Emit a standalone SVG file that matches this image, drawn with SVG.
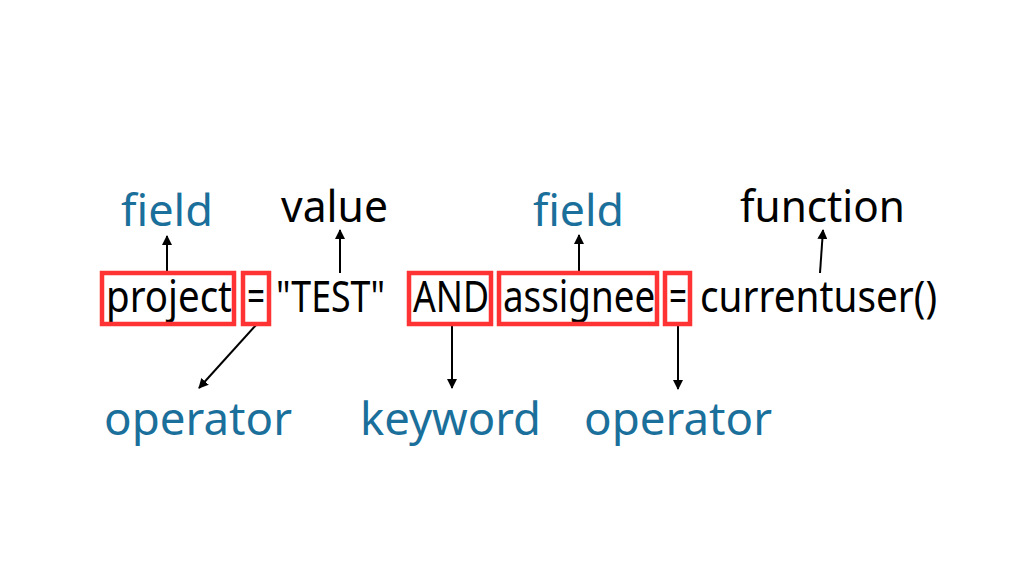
<svg xmlns="http://www.w3.org/2000/svg" width="1024" height="576" viewBox="0 0 1024 576">
<style>
.code{font-family:"Noto Sans","Liberation Sans",sans-serif;font-size:43px;fill:#000}
.lbl{font-family:"Noto Sans","Liberation Sans",sans-serif;font-size:44px}
.low{font-size:46px}
.blue{fill:#1a6f9b}
.black{fill:#000}
.box{fill:none;stroke:#ff3333;stroke-width:4.5}
.conn{stroke:#000;stroke-width:2;fill:none;marker-end:url(#ah)}
</style>
<defs>
<marker id="ah" viewBox="0 0 10 10" refX="9" refY="5" markerWidth="5" markerHeight="5" orient="auto" markerUnits="strokeWidth">
<path d="M0,0 L10,5 L0,10 z" fill="#000"/>
</marker>
</defs>
<rect width="1024" height="576" fill="#fff"/>
<g id="connectors">
<line class="conn" x1="167" y1="273" x2="167" y2="236"/>
<line class="conn" x1="340" y1="273" x2="340" y2="230"/>
<line class="conn" x1="579" y1="273" x2="579" y2="235"/>
<line class="conn" x1="820" y1="273" x2="823" y2="230"/>
<line class="conn" x1="257" y1="324" x2="199" y2="388"/>
<line class="conn" x1="452" y1="324" x2="452" y2="388"/>
<line class="conn" x1="678" y1="324" x2="678" y2="389"/>
</g>
<g id="project"><text class="code" x="106" y="312" textLength="126" lengthAdjust="spacingAndGlyphs">project</text><rect class="box" x="102" y="273" width="132" height="51"/></g>
<g id="eq1"><text class="code" x="247" y="312" textLength="18" lengthAdjust="spacingAndGlyphs">=</text><rect class="box" x="243" y="273" width="26" height="51"/></g>
<g id="test"><text class="code" x="276" y="312" textLength="109" lengthAdjust="spacingAndGlyphs">"TEST"</text></g>
<g id="and"><text class="code" x="413" y="312" textLength="76" lengthAdjust="spacingAndGlyphs">AND</text><rect class="box" x="409" y="273" width="82" height="51"/></g>
<g id="assignee"><text class="code" transform="translate(503,312) scale(0.855,1)" x="0" y="0">assignee</text><rect class="box" x="499" y="273" width="158" height="51"/></g>
<g id="eq2"><text class="code" x="669" y="312" textLength="18" lengthAdjust="spacingAndGlyphs">=</text><rect class="box" x="665" y="273" width="25" height="51"/></g>
<g id="currentuser"><text class="code" x="700" y="312" textLength="237" lengthAdjust="spacingAndGlyphs">currentuser()</text></g>
<g id="label-field1"><text class="lbl blue" x="121" y="226" textLength="92" lengthAdjust="spacingAndGlyphs">field</text></g>
<g id="label-value"><text class="lbl black" x="281" y="222" textLength="107" lengthAdjust="spacingAndGlyphs">value</text></g>
<g id="label-field2"><text class="lbl blue" x="533" y="226" textLength="91" lengthAdjust="spacingAndGlyphs">field</text></g>
<g id="label-function"><text class="lbl black" x="740" y="222" textLength="165" lengthAdjust="spacingAndGlyphs">function</text></g>
<g id="label-operator1"><text class="lbl low blue" x="104" y="435" textLength="188" lengthAdjust="spacingAndGlyphs">operator</text></g>
<g id="label-keyword"><text class="lbl low blue" x="360" y="435" textLength="181" lengthAdjust="spacingAndGlyphs">keyword</text></g>
<g id="label-operator2"><text class="lbl low blue" x="584" y="435" textLength="188" lengthAdjust="spacingAndGlyphs">operator</text></g>
</svg>
